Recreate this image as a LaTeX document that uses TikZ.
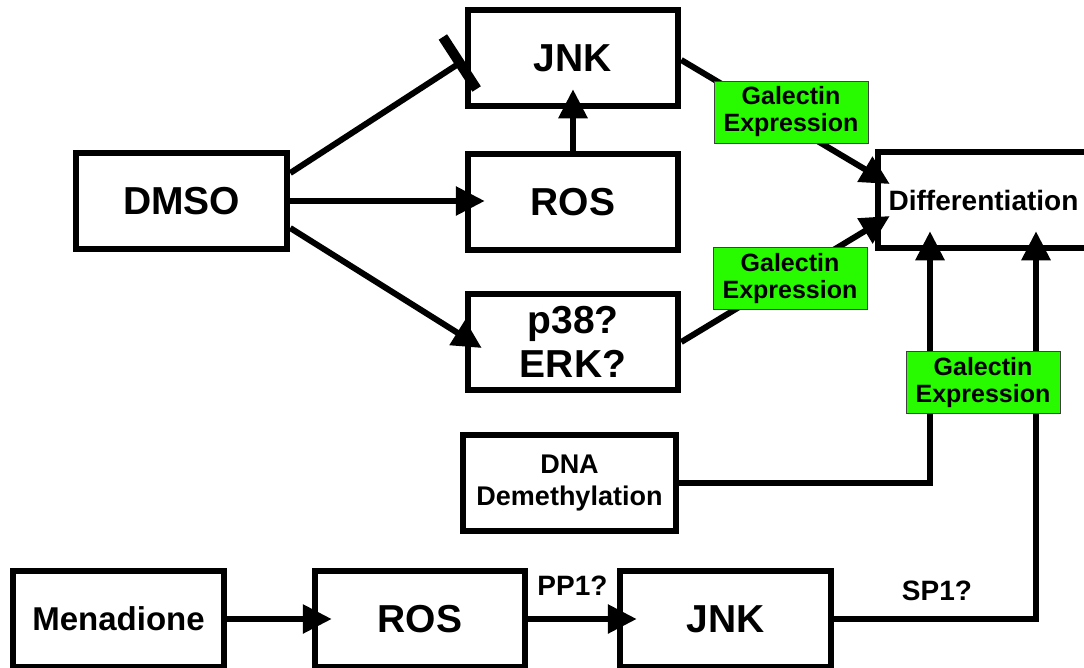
\documentclass[tikz,border=0pt]{standalone}
\usepackage{fontspec}
\setmainfont{Liberation Sans}
\usetikzlibrary{arrows.meta,calc}
\definecolor{glime}{RGB}{40,250,0}
\begin{document}
\begin{tikzpicture}[x=1pt,y=-1pt,
  box/.style={draw,line width=6.5pt,minimum width=210pt,minimum height=96pt,inner sep=0pt,align=center,font=\bfseries\fontsize{39}{44}\selectfont},
  gbox/.style={draw=black!75,line width=1pt,fill=glime,minimum width=154pt,minimum height=62pt,inner sep=0pt,align=center,font=\bfseries\fontsize{25}{27}\selectfont},
  conn/.style={line width=6pt},
  arr/.style={conn,-{Triangle[length=29pt,width=28pt]}},
  arrin/.style={arr,shorten >=-20pt},
  lbl/.style={font=\bfseries\fontsize{28}{30}\selectfont,inner sep=0pt}
]
\useasboundingbox (0,0) rectangle (1084,667);
% boxes
\node[box,minimum width=211pt] (dmso) at (181.5,201) {DMSO};
\node[box] (jnk1) at (573,58) {JNK};
\node[box] (ros1) at (573,202) {ROS};
\node[box] (p38) at (573,342) {p38?\\ERK?};
\node[box,font=\bfseries\fontsize{28}{30}\selectfont,minimum width=211pt] (diff) at (983.5,200) {Differentiation};
\node[box,font=\bfseries\fontsize{27}{32}\selectfont,minimum width=213pt] (dna) at (569.5,483) {DNA\\Demethylation};
\node[box,font=\bfseries\fontsize{33}{36}\selectfont,minimum width=211pt] (men) at (118.5,619) {Menadione};
\node[box] (ros2) at (420,619) {ROS};
\node[box,minimum width=211pt] (jnk2) at (725.5,619) {JNK};
% inhibition DMSO -| JNK
\coordinate (s1) at ([yshift=28pt]dmso.east);
\coordinate (e1) at ([shift={(-5pt,-5pt)}]jnk1.west);
\draw[conn] (s1) -- (e1);
\draw[line width=10pt] ($(e1)!31pt!90:(s1)$) -- ($(e1)!31pt!-90:(s1)$);
% activations
\draw[arrin] (dmso.east) -- (dmso.east -| ros1.west);
\draw[arr] ([yshift=-27pt]dmso.east) -- ([shift={(17pt,-6pt)}]p38.west);
\draw[arrin] (ros1.north) -- (jnk1.south);
\draw[arr] ([yshift=-2pt]jnk1.east) -- ([shift={(15pt,16pt)}]diff.west);
\draw[arr] (p38.east) -- ([shift={(15pt,-16pt)}]diff.west);
\draw[arrin] (dna.east) -| ([xshift=-53.5pt]diff.south);
\draw[arrin] (jnk2.east) -| ([xshift=52.5pt]diff.south);
\draw[arrin] (men.east) -- (ros2.west);
\draw[arrin] (ros2.east) -- (jnk2.west);
% labels
\node[lbl] (pp1) at (572.5,586) {PP1?};
\node[lbl] (sp1) at (937,591) {SP1?};
% green boxes
\node[gbox] (ge1) at (791,112) {Galectin\\Expression};
\node[gbox] (ge2) at (790,278.5) {Galectin\\Expression};
\node[gbox] (ge3) at (983,382.5) {Galectin\\Expression};
\end{tikzpicture}
\end{document}
